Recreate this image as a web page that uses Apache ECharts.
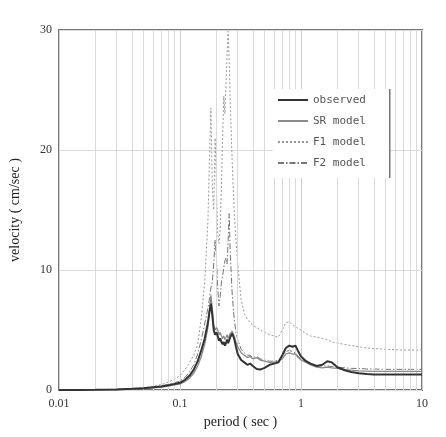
<!DOCTYPE html>
<html>
<head>
<meta charset="utf-8">
<script src="https://cdn.jsdelivr.net/npm/echarts@6/dist/echarts.min.js"></script>
<style>html,body{margin:0;padding:0;background:#fff;}#c{width:446px;height:437px;}</style>
</head>
<body>
<div id="c"></div>
<script>
const periods = [0.01,0.015,0.02,0.03,0.04,0.05,0.06,0.07,0.08,0.09,0.1,0.11,0.12,0.13,0.14,0.15,0.16,0.17,0.175,0.18,0.185,0.19,0.195,0.2,0.205,0.21,0.215,0.22,0.225,0.23,0.235,0.24,0.245,0.25,0.255,0.26,0.27,0.28,0.29,0.3,0.32,0.34,0.36,0.38,0.4,0.43,0.46,0.5,0.55,0.6,0.65,0.7,0.75,0.8,0.85,0.9,0.95,1.0,1.1,1.2,1.35,1.5,1.65,1.8,2.0,2.3,2.6,3.0,3.5,4.0,5.0,6.0,7.0,8.0,9.0,10.0];

const observed = [0,0.01,0.02,0.05,0.1,0.15,0.22,0.3,0.4,0.5,0.6,0.85,1.2,1.7,2.4,3.3,4.3,5.6,6.5,7.2,6.2,5.0,4.6,4.8,4.5,4.1,4.3,4.0,3.8,4.0,3.7,3.9,4.2,3.9,4.0,4.4,4.7,4.3,3.6,3.0,2.5,2.3,2.1,2.2,2.0,1.75,1.7,1.85,2.1,2.2,2.3,2.9,3.5,3.7,3.6,3.7,3.2,2.8,2.4,2.2,2.0,2.1,2.4,2.3,1.9,1.65,1.5,1.4,1.33,1.3,1.3,1.3,1.3,1.3,1.3,1.3];

const srModel = [0,0.01,0.02,0.04,0.08,0.13,0.18,0.25,0.33,0.42,0.5,0.7,1.0,1.4,2.0,2.8,3.8,5.2,6.6,7.9,6.8,5.4,5.0,5.2,5.0,4.6,4.8,4.5,4.3,4.5,4.2,4.4,4.6,4.3,4.4,4.7,4.9,4.5,4.0,3.6,3.1,2.9,2.7,2.8,2.6,2.7,2.5,2.4,2.3,2.3,2.4,2.6,3.0,3.1,3.0,3.0,2.7,2.5,2.3,2.1,1.9,1.85,1.9,1.85,1.8,1.7,1.65,1.6,1.58,1.56,1.55,1.55,1.55,1.55,1.55,1.55];

const f1Model = [0,0.01,0.03,0.07,0.13,0.2,0.3,0.45,0.65,0.9,1.2,1.7,2.3,2.9,3.8,6.0,9.0,14.0,19.0,23.5,17.0,15.0,21.0,17.0,13.0,12.2,13.5,17.0,21.0,24.5,23.0,25.5,28.0,29.9,27.5,24.0,19.0,15.0,12.5,10.5,7.5,6.4,5.9,5.6,5.4,5.2,5.0,4.8,4.6,4.5,4.4,5.0,5.6,5.7,5.4,5.3,5.1,5.0,4.7,4.5,4.4,4.3,4.2,4.0,3.9,3.8,3.7,3.6,3.5,3.45,3.4,3.35,3.33,3.33,3.33,3.33];

const f2Model = [0,0.01,0.02,0.05,0.1,0.16,0.24,0.34,0.46,0.6,0.75,1.05,1.5,2.1,3.0,4.2,5.5,6.8,7.6,8.5,9.0,10.5,12.5,11.0,8.5,7.0,7.8,9.0,9.5,9.5,10.8,11.0,10.5,12.5,14.7,11.5,8.0,6.0,4.8,4.2,3.4,3.1,2.9,2.9,2.7,2.8,2.6,2.5,2.4,2.4,2.5,2.8,3.2,3.3,3.2,3.1,2.8,2.6,2.4,2.2,2.0,2.0,2.0,1.95,1.9,1.85,1.8,1.8,1.75,1.75,1.72,1.72,1.72,1.72,1.72,1.72];

const minorGridPeriods = [0.02,0.03,0.04,0.05,0.06,0.07,0.08,0.09,0.2,0.3,0.4,0.5,0.6,0.7,0.8,0.9,2,3,4,5,6,7,8,9];
const xTickLabels = ['0.01','0.1','1','10'];
const yTicks = [0,10,20,30];

const pair = arr => periods.map((p,i)=>[p,arr[i]]);
const serif = 'Liberation Serif, Times New Roman, serif';
const mono = 'DejaVu Sans Mono, Liberation Mono, monospace';

const chart = echarts.init(document.getElementById('c'), null, {renderer:'canvas'});
chart.setOption({
  backgroundColor:'#fff',
  animation:false,
  grid:{left:59, right:24, top:30, bottom:47, show:true, borderColor:'#777', borderWidth:2, backgroundColor:'transparent'},
  xAxis:{
    type:'log', logBase:10, min:0.01, max:10,
    name:'period ( sec )', nameLocation:'middle', nameGap:23,
    nameTextStyle:{fontFamily:serif, fontSize:14, color:'#222'},
    axisLine:{show:false}, axisTick:{show:false},
    axisLabel:{fontFamily:serif, fontSize:12, color:'#333', margin:8,
      formatter:v=>{const s=String(+v.toPrecision(3)); return xTickLabels.includes(s)?s:'';}},
    splitLine:{show:true, lineStyle:{color:'#cfcfcf', width:1}}
  },
  yAxis:{
    type:'value', min:0, max:30, interval:10,
    name:'velocity ( cm/sec )', nameLocation:'middle', nameGap:37, nameRotate:90,
    nameTextStyle:{fontFamily:serif, fontSize:14, color:'#222'},
    axisLine:{show:false}, axisTick:{show:false},
    axisLabel:{fontFamily:serif, fontSize:12, color:'#333', margin:7,
      formatter:v=>yTicks.includes(v)?String(v):''},
    splitLine:{show:true, lineStyle:{color:'#dcdcdc', width:1}}
  },
  legend:{
    orient:'vertical', left:274, top:93, padding:[0,0,0,3],
    itemWidth:30, itemHeight:14, itemGap:7,
    itemStyle:{opacity:0},
    textStyle:{fontFamily:mono, fontSize:11, color:'#555', lineHeight:14},
    z:100,
    data:['observed','SR model','F1 model','F2 model']
  },
  graphic:[
    {type:'rect', left:273, top:89, shape:{width:117, height:89}, style:{fill:'#fff'}, z:90, silent:true},
    {type:'rect', left:389, top:89, shape:{width:1.5, height:89}, style:{fill:'#777'}, z:100, silent:true}
  ],
  series:[
    {name:'gridMinor', type:'line', data:[], silent:true,
      markLine:{silent:true, symbol:'none', label:{show:false},
        lineStyle:{color:'#dadada', width:1, type:'solid'},
        data:minorGridPeriods.map(p=>({xAxis:p}))}, z:1},
    {name:'F1 model', type:'line', data:pair(f1Model), symbol:'none', smooth:false,
      lineStyle:{color:'#999', width:1, type:[2,2]}, itemStyle:{color:'#999'}, z:3},
    {name:'F2 model', type:'line', data:pair(f2Model), symbol:'none',
      lineStyle:{color:'#777', width:1, type:[6,2,1.5,2]}, itemStyle:{color:'#777'}, z:4},
    {name:'SR model', type:'line', data:pair(srModel), symbol:'none',
      lineStyle:{color:'#8a8a8a', width:1.3}, itemStyle:{color:'#8a8a8a'}, z:5},
    {name:'observed', type:'line', data:pair(observed), symbol:'none',
      lineStyle:{color:'#333', width:2}, itemStyle:{color:'#333'}, z:6}
  ]
});
</script>
</body>
</html>
